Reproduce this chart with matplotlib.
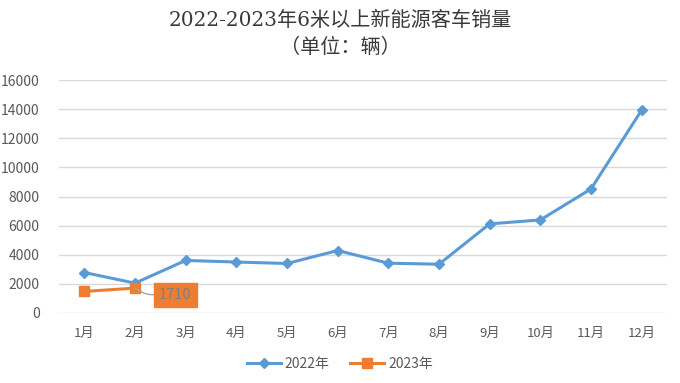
import matplotlib
matplotlib.use('Agg')
import matplotlib.pyplot as plt
from matplotlib.lines import Line2D

plt.rcParams['font.family'] = ['Noto Sans CJK SC', 'DejaVu Sans']

months = ['1月', '2月', '3月', '4月', '5月', '6月', '7月', '8月', '9月', '10月', '11月', '12月']
sales_2022 = [2780, 2050, 3610, 3500, 3400, 4290, 3420, 3350, 6120, 6390, 8520, 13930]
sales_2023 = [1480, 1710]
y_ticks = [0, 2000, 4000, 6000, 8000, 10000, 12000, 14000, 16000]

BLUE = '#5B9BD5'
ORANGE = '#ED7D31'
GRID = '#D9D9D9'
TEXT = '#595959'

fig = plt.figure(figsize=(6.8, 3.83), dpi=100)
ax = fig.add_axes([59 / 680, 1 - 313 / 383, 608 / 680, 233 / 383])

x = list(range(len(months)))
ax.plot(x, sales_2022, color=BLUE, lw=2.2, marker='D', ms=5.5,
        markeredgecolor=BLUE, label='2022年', zorder=3)
ax.plot(x[:len(sales_2023)], sales_2023, color=ORANGE, lw=2.2, marker='s', ms=7,
        markeredgecolor=ORANGE, label='2023年', zorder=4)

# data label for the last 2023 point, with leader line
ax.annotate(str(sales_2023[-1]), xy=(x[1], sales_2023[-1]), xytext=(x[1] + 0.8, sales_2023[-1] - 450),
            fontsize=10.5, color='#7F7F7F', ha='center', va='center',
            bbox=dict(boxstyle='square,pad=0.35', fc=ORANGE, ec=ORANGE),
            arrowprops=dict(arrowstyle='-', color='#A6A6A6', lw=1,
                            connectionstyle='angle,angleA=0,angleB=-30,rad=5',
                            shrinkA=0, shrinkB=0),
            zorder=5)

ax.set_xlim(-0.5, len(months) - 0.5)
ax.set_ylim(0, 16000)
ax.set_yticks(y_ticks)
ax.set_xticks(x)
ax.set_xticklabels(months)
ax.yaxis.grid(True, color=GRID, lw=1)
ax.set_axisbelow(True)
for s in ax.spines.values():
    s.set_visible(False)
ax.tick_params(axis='both', length=0, labelsize=9.5, colors=TEXT)
ax.tick_params(axis='x', pad=10)
ax.tick_params(axis='y', labelsize=10, pad=14)

title_font = ['DejaVu Serif', 'Noto Sans CJK SC']
fig.text(0.5, 1 - 20 / 383, '2022-2023年6米以上新能源客车销量', ha='center', va='center',
         fontsize=14.5, color='#3A3A3A', family=title_font)
fig.text(0.5, 1 - 47 / 383, '（单位：辆）', ha='center', va='center',
         fontsize=14.5, color='#3A3A3A', family=title_font)

handles = [Line2D([], [], color=BLUE, lw=2.2, marker='D', ms=5.5),
           Line2D([], [], color=ORANGE, lw=2.2, marker='s', ms=7)]
fig.legend(handles, ['2022年', '2023年'], loc='center', bbox_to_anchor=(0.5, 1 - 364 / 383),
           ncol=2, frameon=False, fontsize=10, handlelength=2.4, handletextpad=0.3,
           columnspacing=1.5, labelcolor=TEXT)

fig.savefig('out.png', dpi=100)
